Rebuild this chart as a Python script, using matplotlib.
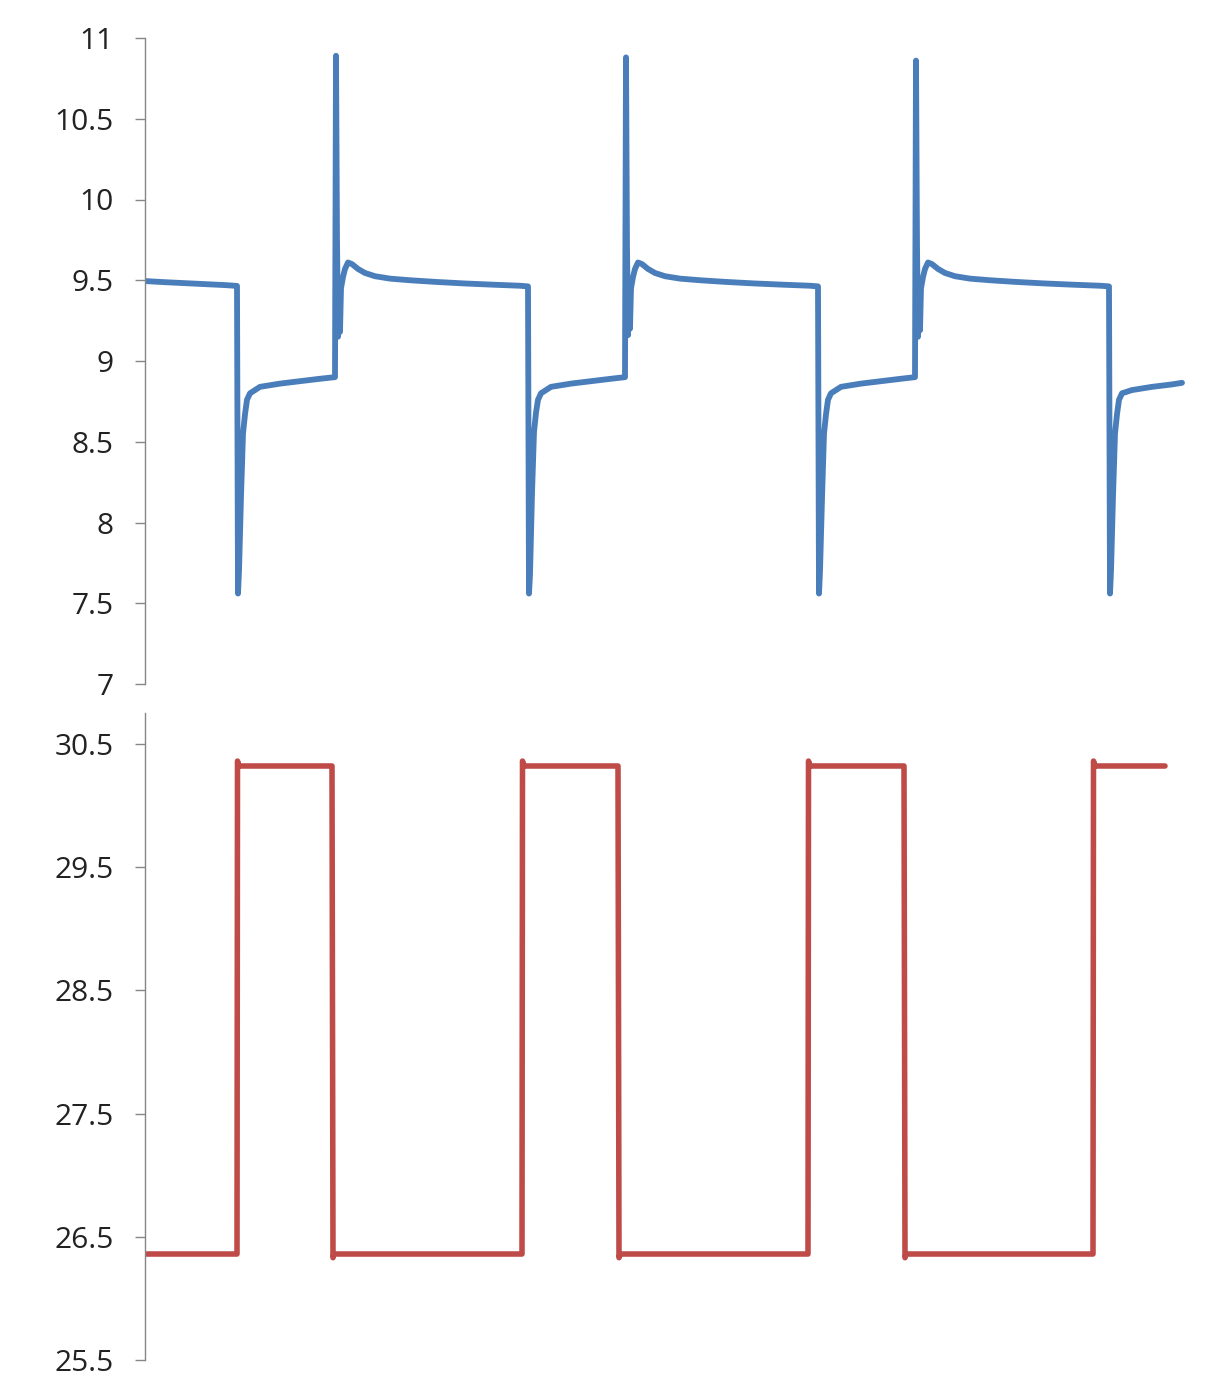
import matplotlib
matplotlib.use("Agg")
import matplotlib.pyplot as plt

# top trace (blue): time [s], value
blue_t = [0, 20, 40, 60, 80, 92,
          93, 94, 96, 98, 100, 102, 105, 115, 135, 155, 175, 190,
          191, 192, 193, 194, 195, 196, 198, 200, 203, 207, 213, 220, 230, 245, 265, 290, 320, 350, 375, 383,
          384, 385, 387, 389, 391, 393, 396, 406, 426, 446, 466, 480,
          481, 482, 483, 484, 485, 486, 488, 490, 493, 497, 503, 510, 520, 535, 555, 580, 610, 640, 665, 673,
          674, 675, 677, 679, 681, 683, 686, 696, 716, 736, 756, 770,
          771, 772, 773, 774, 775, 776, 778, 780, 783, 787, 793, 800, 810, 825, 845, 870, 900, 930, 955, 964,
          965, 966, 968, 970, 972, 974, 977, 987, 1007, 1027, 1037]
blue_v = [9.495, 9.488, 9.482, 9.476, 9.470, 9.465,
          7.56, 7.70, 8.16, 8.55, 8.67, 8.76, 8.80, 8.84, 8.86, 8.875, 8.89, 8.90,
          10.89, 9.75, 9.15, 9.42, 9.18, 9.45, 9.52, 9.57, 9.61, 9.60, 9.57, 9.545, 9.525, 9.51, 9.50, 9.49, 9.48, 9.472, 9.466, 9.462,
          7.56, 7.68, 8.18, 8.56, 8.68, 8.76, 8.80, 8.84, 8.86, 8.875, 8.89, 8.90,
          10.88, 9.70, 9.16, 9.40, 9.20, 9.45, 9.52, 9.57, 9.61, 9.60, 9.57, 9.545, 9.525, 9.51, 9.50, 9.49, 9.48, 9.472, 9.466, 9.462,
          7.56, 7.70, 8.15, 8.55, 8.67, 8.76, 8.80, 8.84, 8.86, 8.875, 8.89, 8.90,
          10.86, 9.72, 9.15, 9.41, 9.19, 9.45, 9.52, 9.57, 9.61, 9.60, 9.57, 9.545, 9.525, 9.51, 9.50, 9.49, 9.48, 9.472, 9.466, 9.462,
          7.56, 7.70, 8.16, 8.55, 8.67, 8.76, 8.80, 8.82, 8.84, 8.855, 8.865]

# bottom trace (red): time [s], value
red_t = [0, 92, 92.5, 94, 187, 188, 189,
         377, 377.5, 379, 473, 474, 475,
         663, 663.5, 665, 759, 760, 761,
         948, 948.5, 950, 1020]
red_v = [26.36, 26.36, 30.36, 30.32, 30.32, 26.33, 26.36,
         26.36, 30.36, 30.32, 30.32, 26.33, 26.36,
         26.36, 30.36, 30.32, 30.32, 26.33, 26.36,
         26.36, 30.36, 30.32, 30.32]

top_ticks = [7, 7.5, 8, 8.5, 9, 9.5, 10, 10.5, 11]
bottom_ticks = [25.5, 26.5, 27.5, 28.5, 29.5, 30.5]

plt.rcParams['font.family'] = ['Open Sans', 'DejaVu Sans']

fig = plt.figure(figsize=(12.2, 13.98), dpi=100)
W, H = 1220, 1398
ax1 = fig.add_axes([145 / W, 1 - 684 / H, 1055 / W, 646 / H])
ax2 = fig.add_axes([145 / W, 1 - 1360 / H, 1055 / W, 647 / H])

ax1.plot(blue_t, blue_v, color='#4a7ebb', lw=4.2,
         solid_joinstyle='round', solid_capstyle='round')
ax2.plot(red_t, red_v, color='#be4b48', lw=4.0,
         solid_joinstyle='round', solid_capstyle='round')

ax1.set_ylim(7, 11)
ax1.set_yticks(top_ticks)
ax1.set_yticklabels(['7', '7.5', '8', '8.5', '9', '9.5', '10', '10.5', '11'])
ax2.set_ylim(25.5, 30.75)
ax2.set_yticks(bottom_ticks)
ax2.set_yticklabels([str(v) for v in bottom_ticks])

for ax in (ax1, ax2):
    ax.set_xlim(0, 1055)
    ax.set_xticks([])
    for s in ('top', 'right', 'bottom'):
        ax.spines[s].set_visible(False)
    ax.spines['left'].set_color('#868686')
    ax.spines['left'].set_linewidth(1.0)
    ax.tick_params(axis='y', direction='out', length=7.5, width=1.0,
                   color='#868686', labelsize=21.5, labelcolor='#222222', pad=15)
    ax.patch.set_alpha(0)

fig.savefig('out.png', dpi=100)
